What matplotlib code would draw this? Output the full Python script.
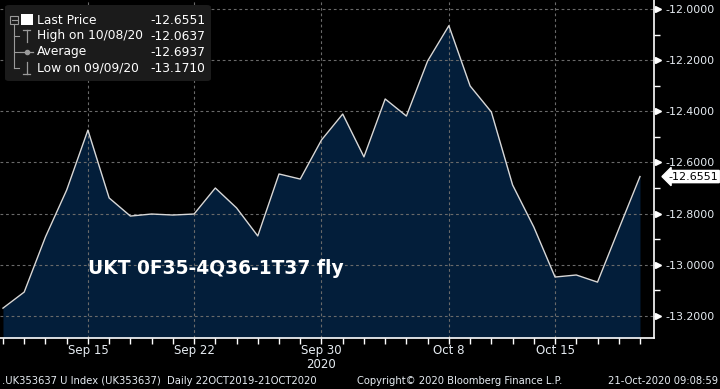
import matplotlib
matplotlib.use("Agg")
import matplotlib.pyplot as plt
from matplotlib.patches import FancyBboxPatch, Rectangle
from matplotlib.lines import Line2D
import matplotlib.transforms as mtransforms
import numpy as np

# daily closes, 09 Sep 2020 - 21 Oct 2020 (trading days)
dates = ['09/09', '10/09', '11/09', '14/09', '15/09', '16/09', '17/09', '18/09',
         '21/09', '22/09', '23/09', '24/09', '25/09', '28/09', '29/09', '30/09',
         '01/10', '02/10', '05/10', '06/10', '07/10', '08/10', '09/10', '12/10',
         '13/10', '14/10', '15/10', '16/10', '19/10', '20/10', '21/10']
values = [-13.171, -13.108, -12.892, -12.708, -12.473, -12.739, -12.810, -12.802,
          -12.806, -12.802, -12.700, -12.778, -12.888, -12.645, -12.665, -12.512,
          -12.410, -12.578, -12.351, -12.418, -12.202, -12.0637, -12.300, -12.402,
          -12.688, -12.853, -13.049, -13.041, -13.069, -12.861, -12.6551]

tick_dates = ['15/09', '22/09', '30/09', '08/10', '15/10']
tick_labels = ['Sep 15', 'Sep 22', 'Sep 30', 'Oct 8', 'Oct 15']
y_ticks = [-12.0, -12.2, -12.4, -12.6, -12.8, -13.0, -13.2]
y_minor = [-12.1, -12.3, -12.5, -12.7, -12.9, -13.1]

legend_rows = ['Last Price', 'High on 10/08/20', 'Average', 'Low on 09/09/20']
legend_vals = ['-12.6551', '-12.0637', '-12.6937', '-13.1710']
last_price = -12.6551

title = 'UKT 0F35-4Q36-1T37 fly'
footer_left = '.UK353637 U Index (UK353637)  Daily 22OCT2019-21OCT2020'
footer_mid = 'Copyright\u00a9 2020 Bloomberg Finance L.P.'
footer_right = '21-Oct-2020 09:08:59'

W, H = 720, 389
BG = 'black'
FILL = '#031e3a'
TXT = '#e6ecf2'
GRID = '#6a6a6a'

plt.rcParams['font.family'] = ['DejaVu Sans']

fig = plt.figure(figsize=(W / 100, H / 100), dpi=100, facecolor=BG)
ax = fig.add_axes([0, 1 - 338 / H, 654 / W, 338 / H], facecolor=BG)

x = np.arange(len(values))
ymin, ymax = -13.288, -11.963
ax.fill_between(x, values, ymin, color=FILL, lw=0, zorder=1)
ax.plot(x, values, color='#d8d8d8', lw=1.0, zorder=3)
ax.set_xlim(-0.14, len(values) - 1 + 0.66)
ax.set_ylim(ymin, ymax)

# axes / spines
for s in ['left', 'top']:
    ax.spines[s].set_visible(False)
for s in ['right', 'bottom']:
    ax.spines[s].set_color('white')
    ax.spines[s].set_linewidth(1.2)

tick_pos = [dates.index(d) for d in tick_dates]
ax.set_xticks(tick_pos)
ax.set_xticklabels(tick_labels)
ax.set_xticks(x, minor=True)
ax.tick_params(axis='x', which='both', direction='out', length=4, width=1,
               color='white', labelcolor=TXT, labelsize=8.5, pad=0)

ax.yaxis.tick_right()
ax.set_yticks(y_ticks)
ax.set_yticklabels(['%.4f' % v for v in y_ticks])
ax.set_yticks(y_minor, minor=True)
ax.tick_params(axis='y', which='both', direction='out', length=4, width=1,
               color='white', labelcolor=TXT, labelsize=7.9, pad=4.5)

ax.grid(True, which='major', color=GRID, lw=0.8, ls=(0, (2.5, 2.5)))
for gl in ax.get_xgridlines() + ax.get_ygridlines():
    gl.set_zorder(2)

# triangle markers at major y ticks
tr = mtransforms.blended_transform_factory(ax.transAxes, ax.transData)
ax.plot([1.006] * len(y_ticks), y_ticks, ls='none', marker='>', ms=5,
        color='white', transform=tr, clip_on=False)

# year label under Sep 30
ax.text(dates.index('30/09'), -0.078, '2020',
        transform=mtransforms.blended_transform_factory(ax.transData, ax.transAxes),
        ha='center', va='center', color=TXT, fontsize=8.5)

# last price tag
ax.text(1.022, last_price, '%.4f' % last_price,
        transform=tr, ha='left', va='center', color='black', fontsize=8.0,
        bbox=dict(boxstyle='larrow,pad=0.1', fc='white', ec='white'), clip_on=False)

# chart title
ax.text(88 / 654, 0.207, title, transform=ax.transAxes, color='white',
        fontsize=13.4, fontweight='bold', ha='left', va='center', zorder=5)


# legend box (figure pixel coords)
def fx(px):
    return px / W


def fy(py):
    return 1 - py / H


box = FancyBboxPatch((fx(5), fy(81)), fx(211) - fx(5), fy(5) - fy(81),
                     boxstyle='round,pad=0,rounding_size=0.006',
                     transform=fig.transFigure, fc='#1b1b1b', ec='none', zorder=10)
fig.patches.append(box)

row_y = [20, 36, 52, 68]
lc = '#9a9a9a'
# tree lines
fig.add_artist(Rectangle((fx(10), fy(24)), fx(8), fy(16) - fy(24), transform=fig.transFigure,
                         fill=False, ec=lc, lw=0.8, zorder=11))
fig.add_artist(Line2D([fx(14), fx(14)], [fy(24), fy(68)], transform=fig.transFigure,
                      color=lc, lw=0.8, zorder=11))
for ry in row_y[1:]:
    fig.add_artist(Line2D([fx(14), fx(19)], [fy(ry), fy(ry)], transform=fig.transFigure,
                          color=lc, lw=0.8, zorder=11))
fig.add_artist(Line2D([fx(11.5), fx(16.5)], [fy(20), fy(20)], transform=fig.transFigure,
                      color=lc, lw=0.8, zorder=11))
# icons
fig.add_artist(Rectangle((fx(21), fy(25)), fx(12), fy(14) - fy(25),
                         transform=fig.transFigure, fc='white', ec='none', zorder=11))
fig.add_artist(Line2D([fx(23), fx(30), None, fx(26.5), fx(26.5)],
                      [fy(30), fy(30), None, fy(30), fy(42)],
                      transform=fig.transFigure, color=lc, lw=0.9, zorder=11))
fig.add_artist(Line2D([fx(20), fx(33)], [fy(52), fy(52)], transform=fig.transFigure,
                      color=lc, lw=0.9, zorder=11))
fig.add_artist(Line2D([fx(26.5)], [fy(52)], transform=fig.transFigure, color=lc,
                      marker='o', ms=3, ls='none', zorder=11))
fig.add_artist(Line2D([fx(26.5), fx(26.5), None, fx(23), fx(30)],
                      [fy(62), fy(74), None, fy(74), fy(74)],
                      transform=fig.transFigure, color=lc, lw=0.9, zorder=11))

for ry, name, val in zip(row_y, legend_rows, legend_vals):
    fig.text(fx(37), fy(ry), name, color='white', fontsize=8.8, ha='left', va='center', zorder=12)
    fig.text(fx(150), fy(ry), val, color='white', fontsize=8.8, ha='left', va='center', zorder=12)

# footer
fig.text(fx(2), fy(381), footer_left, color=TXT, fontsize=7.2, ha='left', va='center')
fig.text(fx(357), fy(381), footer_mid, color=TXT, fontsize=7.2, ha='left', va='center')
fig.text(fx(718), fy(381), footer_right, color=TXT, fontsize=7.2, ha='right', va='center')

fig.savefig('out.png', dpi=100, facecolor=BG)
